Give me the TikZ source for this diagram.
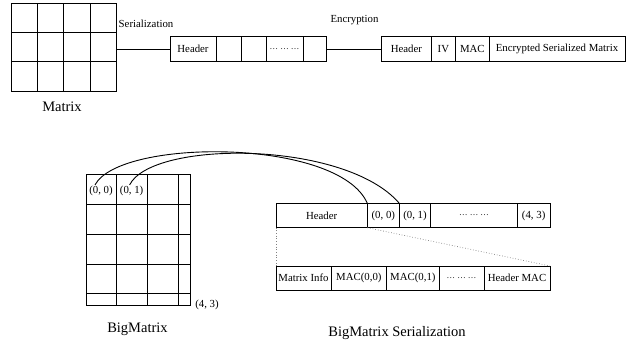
\documentclass[tikz,border=0pt]{standalone}
\usepackage{fontspec}
\setmainfont{Liberation Serif}
\begin{document}
\begin{tikzpicture}[x=1pt,y=-1pt,
  cellbox/.style={draw,line width=0.9pt,inner sep=0pt,outer sep=0pt,anchor=north west,font=\fontsize{10.8}{12}\selectfont},
  gridline/.style={line width=1pt},
  small/.style={inner sep=0pt,font=\fontsize{10.8}{12}\selectfont},
  big/.style={inner sep=0pt,font=\fontsize{14.5}{16}\selectfont},
  dotsfont/.style={font=\fontsize{8.5}{10}\selectfont},
  conn/.style={line width=0.9pt},
  arc/.style={line width=0.9pt},
  guide/.style={gray,dotted,line width=0.7pt}]
\useasboundingbox (0,0) rectangle (627,344);

% ---------- Matrix (top left) ----------
\node[draw,gridline,inner sep=0pt,outer sep=0pt,anchor=north west,minimum width=104.3pt,minimum height=88.7pt] (mat) at (11.7,3.3) {};
\foreach \x in {37.7,63.7,90} \draw[gridline] (\x,3.3) -- (\x,92);
\foreach \y in {33,62} \draw[gridline] (11.7,\y) -- (116,\y);
\node[big] (matlbl) at (62,107) {Matrix};

% ---------- serialized row ----------
\node[cellbox,minimum width=46pt,minimum height=25pt] (h1) at (170,36.7) {Header};
\node[cellbox,minimum width=25pt,minimum height=25pt] (c1) at (216,36.7) {};
\node[cellbox,minimum width=25pt,minimum height=25pt] (c2) at (241,36.7) {};
\node[cellbox,minimum width=37pt,minimum height=25pt,dotsfont] (c3) at (266,36.7) {\ldots\ \ldots\ \ldots};
\node[cellbox,minimum width=23.7pt,minimum height=25pt] (c4) at (303,36.7) {};
\node[small] (serlbl) at (146,24) {Serialization};
\draw[conn] (h1.west) -- (h1.west -| mat.east);

% ---------- encrypted row ----------
\node[cellbox,minimum width=49.3pt,minimum height=25pt] (eh) at (381.7,36.7) {Header};
\node[cellbox,minimum width=24.7pt,minimum height=25pt] (eiv) at (431,36.7) {IV};
\node[cellbox,minimum width=33.3pt,minimum height=25pt] (emac) at (455.7,36.7) {MAC};
\node[cellbox,minimum width=136pt,minimum height=25pt] (eenc) at (489,36.7) {Encrypted Serialized Matrix};
\node[small] (enclbl) at (354.5,20) {Encryption};
\draw[conn] (c4.east) -- (eh.west);

% ---------- BigMatrix ----------
\node[draw,gridline,inner sep=0pt,outer sep=0pt,anchor=north west,minimum width=104.3pt,minimum height=131pt] (bm) at (86,175) {};
\foreach \x in {116,147.3,178} \draw[gridline] (\x,175) -- (\x,306);
\foreach \y in {205,235,264.3,294} \draw[gridline] (86,\y) -- (190.3,\y);
\node[small] (l00) at (101,191) {(0, 0)};
\node[small] (l01) at (131.6,191) {(0, 1)};
\node[small] (l43) at (207,305) {(4, 3)};
\node[big] (bmlbl) at (137.5,329) {BigMatrix};

% ---------- BigMatrix serialization ----------
\node[cellbox,minimum width=91.3pt,minimum height=24.4pt] (sh) at (276,203.3) {Header};
\node[cellbox,minimum width=32pt,minimum height=24.4pt] (s00) at (367.3,203.3) {(0, 0)};
\node[cellbox,minimum width=31.4pt,minimum height=24.4pt] (s01) at (399.3,203.3) {(0, 1)};
\node[cellbox,minimum width=86.6pt,minimum height=24.4pt,dotsfont] (sdots) at (430.7,203.3) {\ldots\ \ldots\ \ldots};
\node[cellbox,minimum width=32.7pt,minimum height=24.4pt] (s43) at (517.3,203.3) {(4, 3)};

\node[cellbox,minimum width=55pt,minimum height=24pt] (mi) at (276,266) {Matrix Info};
\node[cellbox,minimum width=55.7pt,minimum height=24pt] (m00) at (331,266) {MAC(0,0)};
\node[cellbox,minimum width=52.3pt,minimum height=24pt] (m01) at (386.7,266) {MAC(0,1)};
\node[cellbox,minimum width=45pt,minimum height=24pt,dotsfont] (mdots) at (439,266) {\ldots\ \ldots\ \ldots};
\node[cellbox,minimum width=66pt,minimum height=24pt] (hm) at (484,266) {Header MAC};
\node[big] (bslbl) at (397,333) {BigMatrix Serialization};

\draw[guide] (sh.south west) -- (mi.north west);
\draw[guide] (sh.south east) -- (hm.north east);

% ---------- arcs ----------
\draw[arc] ([xshift=-6pt,yshift=1pt]l00.north) .. controls (120,138) and (339,138) .. (s00.north west);
\draw[arc] ([xshift=-2pt,yshift=1pt]l01.north) .. controls (152,140) and (345,140) .. (s01.north west);
\end{tikzpicture}
\end{document}
